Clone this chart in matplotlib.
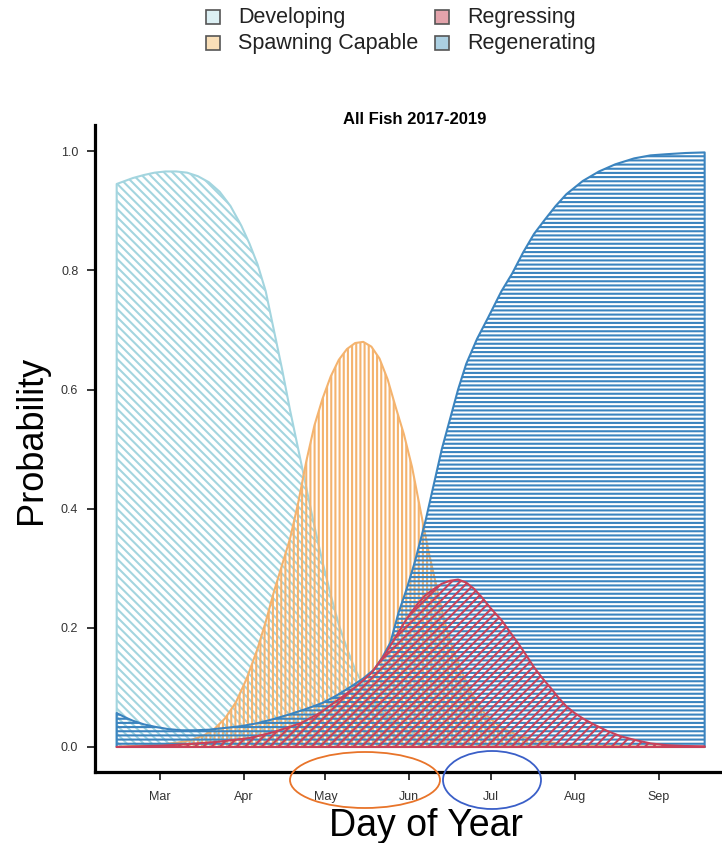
import matplotlib
matplotlib.use("Agg")
import matplotlib.pyplot as plt
from matplotlib.patches import Rectangle, Ellipse

# Data (day of year -> probability)
dev_days = [44, 47, 50, 54, 58, 62, 66, 70, 74, 78, 82, 86, 90, 93, 96, 99, 102, 105, 108, 111, 114, 117, 120,
            123, 126, 129, 132, 136, 140, 145, 150, 156, 163, 172, 185, 200, 220, 261]
dev_prob = [0.945, 0.950, 0.955, 0.960, 0.964, 0.966, 0.966, 0.964, 0.958, 0.948, 0.932, 0.908, 0.875, 0.845,
            0.81, 0.765, 0.70, 0.635, 0.565, 0.50, 0.435, 0.37, 0.31, 0.255, 0.205, 0.165, 0.13, 0.095, 0.068,
            0.045, 0.03, 0.018, 0.01, 0.005, 0.002, 0.001, 0.0, 0.0]

spawn_days = [44, 52, 60, 66, 71, 76, 80, 84, 88, 92, 96, 99, 102, 105, 108, 111, 114, 117, 120, 123, 126, 129,
              132, 135, 138, 141, 144, 147, 150, 153, 156, 159, 162, 165, 168, 171, 175, 180, 186, 193, 200, 211,
              230, 261]
spawn_prob = [0.0, 0.002, 0.004, 0.007, 0.011, 0.019, 0.030, 0.048, 0.075, 0.115, 0.165, 0.21, 0.26, 0.305, 0.35,
              0.41, 0.48, 0.54, 0.585, 0.622, 0.650, 0.668, 0.678, 0.680, 0.672, 0.652, 0.617, 0.57, 0.525, 0.47,
              0.40, 0.33, 0.27, 0.21, 0.165, 0.13, 0.09, 0.055, 0.032, 0.018, 0.01, 0.004, 0.001, 0.0]

regress_days = [44, 60, 71, 82, 93, 102, 112, 119, 126, 132, 138, 143, 147, 151, 155, 158, 161, 164, 167, 170,
                173, 176, 179, 182, 186, 189, 192, 195, 198, 201, 204, 207, 210, 213, 216, 220, 225, 230, 235,
                241, 247, 254, 261]
regress_prob = [0.0, 0.002, 0.005, 0.009, 0.015, 0.025, 0.04, 0.057, 0.08, 0.10, 0.124, 0.155, 0.185, 0.215,
                0.24, 0.255, 0.265, 0.274, 0.279, 0.281, 0.276, 0.265, 0.25, 0.233, 0.213, 0.194, 0.175, 0.155,
                0.134, 0.116, 0.10, 0.083, 0.068, 0.057, 0.048, 0.038, 0.027, 0.018, 0.012, 0.006, 0.003,
                0.0015, 0.001]

regen_days = [44, 47, 50, 54, 58, 63, 68, 73, 78, 84, 90, 96, 102, 108, 114, 120, 125, 130, 135, 139, 142, 145,
              148, 151, 154, 158, 161, 164, 167, 170, 173, 177, 181, 186, 190, 194, 198, 202, 206, 210, 216, 222,
              228, 235, 241, 247, 254, 261]
regen_prob = [0.057, 0.050, 0.044, 0.038, 0.034, 0.030, 0.028, 0.028, 0.029, 0.032, 0.035, 0.040, 0.047, 0.055,
              0.064, 0.074, 0.086, 0.10, 0.115, 0.13, 0.15, 0.175, 0.225, 0.265, 0.31, 0.38, 0.44, 0.50, 0.55,
              0.60, 0.643, 0.685, 0.72, 0.765, 0.795, 0.83, 0.861, 0.885, 0.908, 0.928, 0.95, 0.966, 0.978,
              0.988, 0.993, 0.995, 0.997, 0.998]

month_days = [60, 91, 121, 152, 182, 213, 244]
month_labels = ["Mar", "Apr", "May", "Jun", "Jul", "Aug", "Sep"]
y_ticks = [0.0, 0.2, 0.4, 0.6, 0.8, 1.0]

stage_names = ["Developing", "Spawning Capable", "Regressing", "Regenerating"]
line_colors = ["#a3d5df", "#f4b36e", "#c8415a", "#3b84bf"]
legend_fills = ["#dcf0f4", "#f9dfb8", "#e3a3ab", "#acd0e2"]

plt.rcParams['font.family'] = ['Liberation Sans', 'DejaVu Sans']
plt.rcParams['hatch.linewidth'] = 1.5

fig = plt.figure(figsize=(7.22, 8.43), dpi=100)
W, H = 722.0, 843.0
ax = fig.add_axes([95 / W, 1 - 772 / H, 1 - 95 / W, (772 - 125) / H])

ax.fill_between(dev_days, 0, dev_prob, facecolor='none', edgecolor=line_colors[0], hatch='\\\\\\\\', linewidth=1.5)
ax.fill_between(spawn_days, 0, spawn_prob, facecolor='none', edgecolor=line_colors[1], hatch='||||', linewidth=1.5)
ax.fill_between(regen_days, 0, regen_prob, facecolor='none', edgecolor=line_colors[3], hatch='----', linewidth=1.5)
ax.fill_between(regress_days, 0, regress_prob, facecolor='none', edgecolor=line_colors[2], hatch='////', linewidth=1.5)

ax.set_xlim(36.0, 267.4)
ax.set_ylim(-0.042, 1.044)
ax.set_xticks(month_days)
ax.set_xticklabels(month_labels)
ax.set_yticks(y_ticks)
ax.set_yticklabels(["%.1f" % v for v in y_ticks])
for s in ['top', 'right']:
    ax.spines[s].set_visible(False)
for s in ['left', 'bottom']:
    ax.spines[s].set_linewidth(2.3)
ax.tick_params(axis='x', length=6, width=1.1, pad=8, labelsize=9, labelcolor='#333333')
ax.tick_params(axis='y', length=6, width=1.1, pad=6, labelsize=9, labelcolor='#333333')

fig.text(415 / W, 1 - 119 / H, "All Fish 2017-2019", ha='center', va='center', fontsize=12, fontweight='bold')
fig.text(32 / W, 1 - 440 / H, "Probability", ha='center', va='center', rotation=90, fontsize=26)
fig.text(426 / W, 1 - 826 / H, "Day of Year", ha='center', va='center', fontsize=27)

# legend, two columns at the top
legend_pos = [(206, 17), (206, 43), (435, 17), (435, 43)]
for i in range(4):
    x0, yc = legend_pos[i]
    fig.add_artist(Rectangle((x0 / W, 1 - (yc + 7) / H), 14 / W, 14 / H, transform=fig.transFigure,
                             facecolor=legend_fills[i], edgecolor='#555555', linewidth=1.2))
    fig.text((x0 + 32) / W, 1 - yc / H, stage_names[i], ha='left', va='center', fontsize=15.5, color='#222222')

# hand-drawn highlight ellipses under the axis
fig.add_artist(Ellipse((365 / W, 1 - 780 / H), 150 / W, 56 / H, transform=fig.transFigure,
                       facecolor='none', edgecolor='#e8742a', linewidth=1.3))
fig.add_artist(Ellipse((492 / W, 1 - 780 / H), 98 / W, 58 / H, transform=fig.transFigure,
                       facecolor='none', edgecolor='#3a5fc8', linewidth=1.3))

fig.savefig("out.png", dpi=100)
